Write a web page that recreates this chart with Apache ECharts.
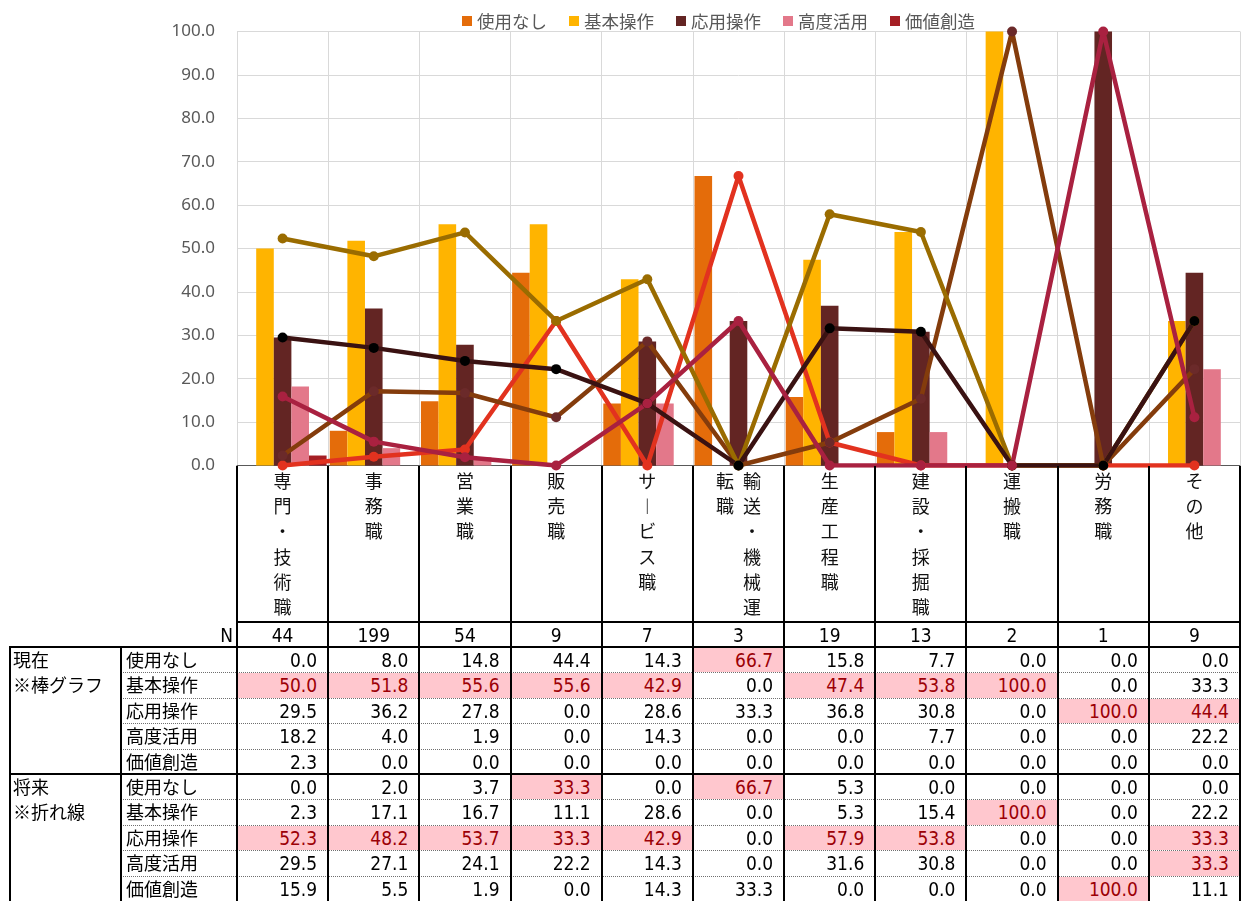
<!DOCTYPE html>
<html><head><meta charset="utf-8">
<script src="https://cdn.jsdelivr.net/npm/echarts@6/dist/echarts.min.js"></script>
<style>
html,body{margin:0;padding:0;background:#fff;}
#wrap{position:relative;width:1241px;height:901px;overflow:hidden;}
#chart{position:absolute;left:0;top:0;width:1241px;height:901px;}
#tbl{position:absolute;left:0;top:0;width:1241px;height:901px;pointer-events:none;}
.c{position:absolute;box-sizing:border-box;font-family:"Noto Sans CJK JP";font-size:18px;color:#000;white-space:nowrap;}
.num{font-family:"DejaVu Sans Condensed","Noto Sans CJK JP";font-size:19px;text-align:right;padding-right:10px;}
.ctr{font-family:"DejaVu Sans Condensed","Noto Sans CJK JP";font-size:19px;text-align:center;}
.hl{background:#FFC7CE;color:#9C0006;}
.ln{position:absolute;background:#000;}
.dot{position:absolute;height:0;border-top:1px dotted #6f6f6f;}
</style></head>
<body>
<div id="wrap"><div id="chart"></div><div id="tbl"></div></div>
<script>
// ---- data ----
const categories = ['専門・技術職','事務職','営業職','販売職','サービス職','輸送・機械運転職','生産工程職','建設・採掘職','運搬職','労務職','その他'];
const levels = ['使用なし','基本操作','応用操作','高度活用','価値創造'];
const nValues = [44,199,54,9,7,3,19,13,2,1,9];
const yTicks = [0,10,20,30,40,50,60,70,80,90,100];

const curNone     = [0.0, 8.0, 14.8, 44.4, 14.3, 66.7, 15.8, 7.7, 0.0, 0.0, 0.0];
const curBasic    = [50.0, 51.8, 55.6, 55.6, 42.9, 0.0, 47.4, 53.8, 100.0, 0.0, 33.3];
const curApplied  = [29.5, 36.2, 27.8, 0.0, 28.6, 33.3, 36.8, 30.8, 0.0, 100.0, 44.4];
const curAdvanced = [18.2, 4.0, 1.9, 0.0, 14.3, 0.0, 0.0, 7.7, 0.0, 0.0, 22.2];
const curValue    = [2.3, 0.0, 0.0, 0.0, 0.0, 0.0, 0.0, 0.0, 0.0, 0.0, 0.0];

const futNone     = [0.0, 2.0, 3.7, 33.3, 0.0, 66.7, 5.3, 0.0, 0.0, 0.0, 0.0];
const futBasic    = [2.3, 17.1, 16.7, 11.1, 28.6, 0.0, 5.3, 15.4, 100.0, 0.0, 22.2];
const futApplied  = [52.3, 48.2, 53.7, 33.3, 42.9, 0.0, 57.9, 53.8, 0.0, 0.0, 33.3];
const futAdvanced = [29.5, 27.1, 24.1, 22.2, 14.3, 0.0, 31.6, 30.8, 0.0, 0.0, 33.3];
const futValue    = [15.9, 5.5, 1.9, 0.0, 14.3, 33.3, 0.0, 0.0, 0.0, 100.0, 11.1];

const groupLabels = [['現在','※棒グラフ'],['将来','※折れ線']];

// ---- styles ----
const current = [curNone, curBasic, curApplied, curAdvanced, curValue];
const future  = [futNone, futBasic, futApplied, futAdvanced, futValue];
const barColors  = ['#E46C0A','#FFB400','#632523','#E3788A','#A51F25'];
const lineColors = ['#E2321F','#843C0C','#9A6C00','#3A1212','#A92140'];
const markColors = ['#E2321F','#6B2A2A','#9A6C00','#000000','#A92140'];

function vert(s){
  s = s.replace(/ー/g,'︱');
  const ch = Array.from(s);
  if (ch.length <= 6) return ch.join('\n');
  const right = ch.slice(0,6), left = ch.slice(6);
  return right.map((c,i)=> (left[i] || '　') + '\u2002' + c).join('\n');
}

const series = [];
levels.forEach((nm,i)=>{
  series.push({type:'bar', name:nm, data:current[i], barGap:'0%', barCategoryGap:'3.5%',
    itemStyle:{color:barColors[i]}, z:2});
});
levels.forEach((nm,i)=>{
  series.push({type:'line', name:nm+'（将来）', data:future[i], symbol:'circle', symbolSize:10,
    lineStyle:{color:lineColors[i], width:4.5}, itemStyle:{color:markColors[i]}, z:3});
});

const chart = echarts.init(document.getElementById('chart'), null, {renderer:'canvas'});
chart.setOption({
  animation:false,
  backgroundColor:'transparent',
  legend:{data:levels, top:6, left:457, itemWidth:10, itemHeight:10, itemGap:22, icon:'rect',
    textStyle:{fontSize:17.5, color:'#595959', fontFamily:'Noto Sans CJK JP', lineHeight:20}},
  grid:{left:237, right:1, top:31.5, bottom:435.5, containLabel:false, outerBoundsMode:'none'},
  xAxis:{type:'category', data:categories, boundaryGap:true,
    axisLine:{show:true, lineStyle:{color:'#595959', width:1}},
    axisTick:{show:false},
    splitLine:{show:true, lineStyle:{color:'#D9D9D9', width:1}},
    axisLabel:{interval:0, formatter:vert, fontSize:18, lineHeight:25.2, color:'#111',
      fontFamily:'Noto Sans CJK JP', margin:3, verticalAlign:'top'}},
  yAxis:{type:'value', min:yTicks[0], max:yTicks[yTicks.length-1], interval:yTicks[1]-yTicks[0],
    axisLine:{show:false}, axisTick:{show:false},
    splitLine:{show:true, lineStyle:{color:'#D9D9D9', width:1}},
    axisLabel:{formatter:v=>v.toFixed(1), fontSize:17, color:'#595959', fontFamily:'Noto Sans', margin:22}},
  series:series
});

// ---- data table (HTML) ----
const tbl = document.getElementById('tbl');
const X0 = 237, X1 = 1240, COLW = (X1-X0)/categories.length;
const ROW0 = 647, ROWH = 25.4;
function el(cls, st, txt){
  const d = document.createElement('div'); d.className = cls;
  Object.assign(d.style, st); if (txt!==undefined) d.textContent = txt; tbl.appendChild(d); return d;
}
const px = v => v + 'px';
// N row
el('c', {left:px(X0-60), top:px(623), width:px(56), height:px(24), lineHeight:px(24), textAlign:'right', fontFamily:'DejaVu Sans Condensed', fontSize:'19px'}, 'N');
nValues.forEach((n,c)=>{
  el('c ctr', {left:px(X0+c*COLW), top:px(623), width:px(COLW), height:px(24), lineHeight:px(24)}, String(n));
});
// rows
const groups = [current, future];
groups.forEach((grp,g)=>{
  const maxes = categories.map((_,c)=>Math.max(...grp.map(a=>a[c])));
  levels.forEach((nm,r)=>{
    const top = ROW0 + (g*levels.length + r)*ROWH;
    el('c', {left:px(126), top:px(top), height:px(ROWH), lineHeight:px(ROWH)}, nm);
    grp[r].forEach((v,c)=>{
      const hl = v === maxes[c];
      el('c num' + (hl?' hl':''), {left:px(X0+c*COLW+1), top:px(top+1), width:px(COLW-2), height:px(ROWH-1), lineHeight:px(ROWH-1)}, v.toFixed(1));
    });
    if (r>0) el('dot', {left:px(121), top:px(top), width:px(X1-121)});
  });
  groupLabels[g].forEach((t,k)=>{
    const top = ROW0 + (g*levels.length + k)*ROWH;
    el('c', {left:px(13), top:px(top), height:px(ROWH), lineHeight:px(ROWH)}, t);
  });
});
// borders
for (let k=0;k<=categories.length;k++){
  const x = X0 + k*COLW;
  el('ln', {left:px(x-1), top:px(466), width:'2px', height:px(901-466)});
}
el('ln', {left:px(9), top:px(646), width:'2px', height:px(901-646)});
el('ln', {left:px(120), top:px(646), width:'2px', height:px(901-646)});
el('ln', {left:px(X0), top:px(621), width:px(X1-X0+1), height:'2px'});
el('ln', {left:px(9), top:px(646), width:px(X1-9+1), height:'2px'});
el('ln', {left:px(9), top:px(ROW0+levels.length*ROWH-1), width:px(X1-9+1), height:'2px'});
</script>
</body></html>
